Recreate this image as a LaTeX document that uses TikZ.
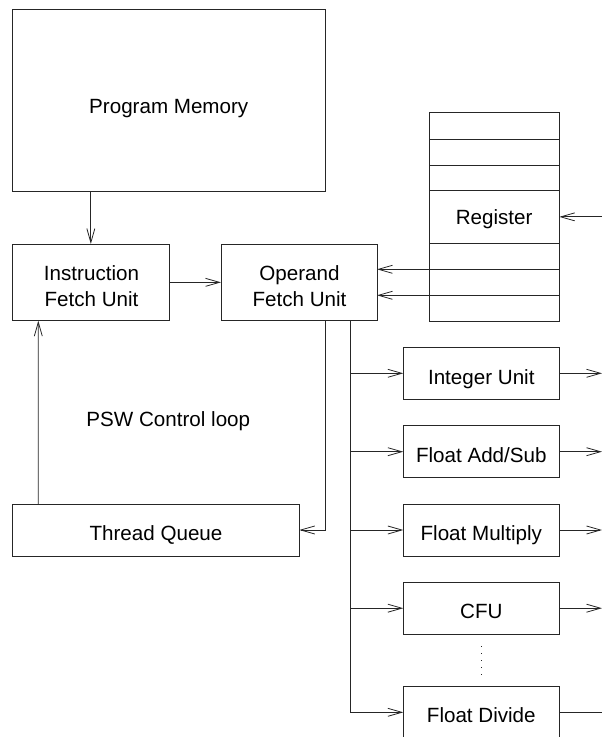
\documentclass[tikz,border=0pt]{standalone}
\usepackage{fontspec}
\setmainfont{Liberation Sans}
\usetikzlibrary{arrows.meta}
\begin{document}
\begin{tikzpicture}[x=1pt,y=-1pt,
  every node/.style={font=\fontsize{20.6}{25.7}\selectfont, inner sep=0pt, outer sep=0pt},
  box/.style={draw=black!85, line width=0.8pt},
  lbl/.style={text height=14.75pt, text depth=0pt},
  ln/.style={draw=black!85, line width=0.8pt},
  arr/.style={ln, -{Straight Barb[length=14pt,width=8pt,line width=0.8pt]}},
  unitbox/.style={box, minimum width=156pt, minimum height=52pt}
]
\useasboundingbox (0,0) rectangle (602,737);

% main boxes
\node[box, minimum width=312.5pt, minimum height=182pt] (pm) at (168.75,100) {};
\node[lbl] (pmt) at (168.75,105.9) {Program Memory};
\node[box, minimum width=156.3pt, minimum height=76.7pt] (ifu) at (90.85,282.35) {};
\node[lbl] (ifut1) at (91.5,273.2) {Instruction};
\node[lbl] (ifut2) at (91.5,299) {Fetch Unit};
\node[box, minimum width=156pt, minimum height=76.7pt] (ofu) at (299,282.35) {};
\node[lbl] (ofut1) at (299.5,273.2) {Operand};
\node[lbl] (ofut2) at (299.5,299) {Fetch Unit};
\node[box, minimum width=286.6pt, minimum height=52pt] (tq) at (156,530) {};
\node[lbl] (tqt) at (156,533.3) {Thread Queue};

% register file
\node[box, minimum width=130.3pt, minimum height=208.3pt] (reg) at (494.15,216.85) {};
\node[lbl] (reglabel) at (494.15,216.7) {Register};
\foreach \yy in {139,165,190.7,243.3,269.3,295.3}
  \draw[ln] (reg.west |- 0,\yy) -- (reg.east |- 0,\yy);
\coordinate (regin) at (602,216.85);
\draw[arr] (regin) -- (reg.east);

% register -> operand
\draw[arr] (reg.west |- 0,269.3) -- (ofu.east |- 0,269.3);
\draw[arr] (reg.west |- 0,295.3) -- (ofu.east |- 0,295.3);

% units
\node[unitbox] (int)  at (481.3,373.3) {};
\node[unitbox] (fas)  at (481.3,451.7) {};
\node[unitbox] (fmul) at (481.3,530)   {};
\node[unitbox] (cfu)  at (481.3,608.2) {};
\node[unitbox] (fdiv) at (481.3,712.3) {};
\node[lbl] (intt)  at ([yshift=-3.5pt]int.center)  {Integer Unit};
\node[lbl] (fast)  at ([yshift=-3.2pt]fas.center)  {Float Add/Sub};
\node[lbl] (fmult) at ([yshift=-3.3pt]fmul.center) {Float Multiply};
\node[lbl] (cfut)  at ([yshift=-3.3pt]cfu.center)  {CFU};
\node[lbl] (fdivt) at ([yshift=-3.2pt]fdiv.center) {Float Divide};

% control flow
\draw[arr] (ifu.north |- pm.south) -- (ifu.north);
\draw[arr] (ifu.east) -- (ofu.west);
\draw[arr] ([xshift=25.6pt]tq.north west) -- ([xshift=25.6pt]ifu.south west);
\draw[arr] ([xshift=-52pt]ofu.south east) |- (tq.east);

% distribution bus
\coordinate (bus) at ([xshift=-26.3pt]ofu.south east);
\draw[arr] (bus) |- (fdiv.west);
\foreach \u in {int,fas,fmul,cfu}
  \draw[arr] (bus |- \u.west) -- (\u.west);

% outputs
\foreach \u in {int,fas,fmul,cfu}
  \draw[arr] (\u.east) -- (\u.east -| regin);
\draw[ln] (fdiv.east) -- (fdiv.east -| regin);

% dots
\draw[ln, line width=1pt, dash pattern=on 1.2pt off 5.8pt] ([yshift=-12pt]cfu.south) -- ([yshift=10pt]fdiv.north);

% label
\node[lbl] (psw) at (168.3,419.5) {PSW Control loop};
\end{tikzpicture}
\end{document}
